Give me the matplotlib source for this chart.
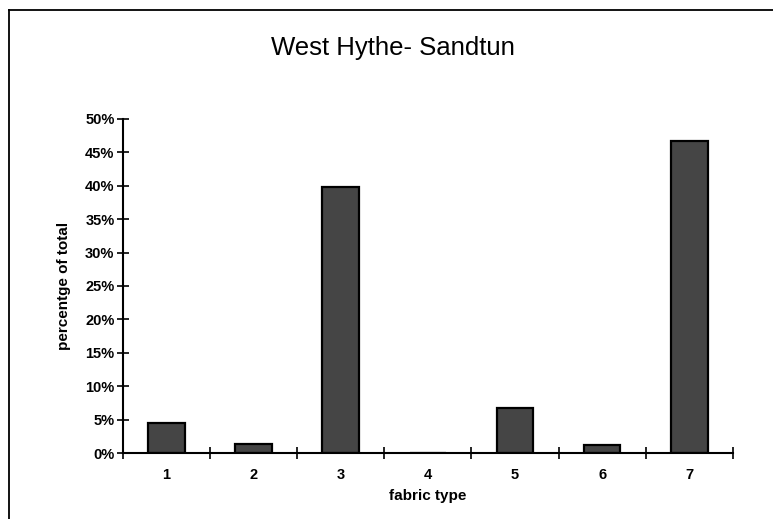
import matplotlib.pyplot as plt
from matplotlib.lines import Line2D
from matplotlib.ticker import PercentFormatter, FixedLocator
import numpy as np

# fabric type shares, West Hythe - Sandtun
fabric_types = ['1', '2', '3', '4', '5', '6', '7']
share = [0.045, 0.013, 0.398, 0.0, 0.067, 0.012, 0.467]

plt.rcParams['font.family'] = ['Liberation Sans', 'DejaVu Sans']

fig = plt.figure(figsize=(7.73, 5.19), dpi=100)
ax = fig.add_axes([0.159, 0.127, 0.789, 0.644])

x = np.arange(1, len(fabric_types) + 1)
ax.bar(x, share, width=0.42, color='#454545', edgecolor='black', linewidth=1.6)

ax.set_xlim(0.5, len(fabric_types) + 0.5)
ax.set_ylim(0, 0.5)
ax.set_yticks(np.arange(0, 0.51, 0.05))
ax.yaxis.set_major_formatter(PercentFormatter(1.0, decimals=0))

# category labels in the middle, ticks on the boundaries
ax.set_xticks(x)
ax.set_xticklabels(fabric_types)
ax.xaxis.set_minor_locator(FixedLocator(np.arange(0.5, len(fabric_types) + 1, 1)))
ax.tick_params(axis='x', which='major', length=0, pad=11)
ax.tick_params(axis='x', which='minor', direction='inout', length=8, width=1.2)
ax.tick_params(axis='y', direction='inout', length=8, width=1.2, pad=2)

for lbl in ax.get_xticklabels() + ax.get_yticklabels():
    lbl.set_fontweight('bold')
    lbl.set_fontsize(10.5)

for side in ['top', 'right']:
    ax.spines[side].set_visible(False)
for side in ['left', 'bottom']:
    ax.spines[side].set_linewidth(1.5)

ax.set_xlabel('fabric type', fontsize=11, fontweight='bold', labelpad=5)
ax.set_ylabel('percentge of total', fontsize=11, fontweight='bold', labelpad=10)
fig.text(0.508, 0.908, 'West Hythe- Sandtun', ha='center', va='center', fontsize=18.5)

# chart frame: top and left edges
fig.add_artist(Line2D([0.011, 1.0], [0.981, 0.981], color='black', linewidth=1.3))
fig.add_artist(Line2D([0.012, 0.012], [0.0, 0.981], color='black', linewidth=1.3))

fig.savefig('out.png', dpi=100)
